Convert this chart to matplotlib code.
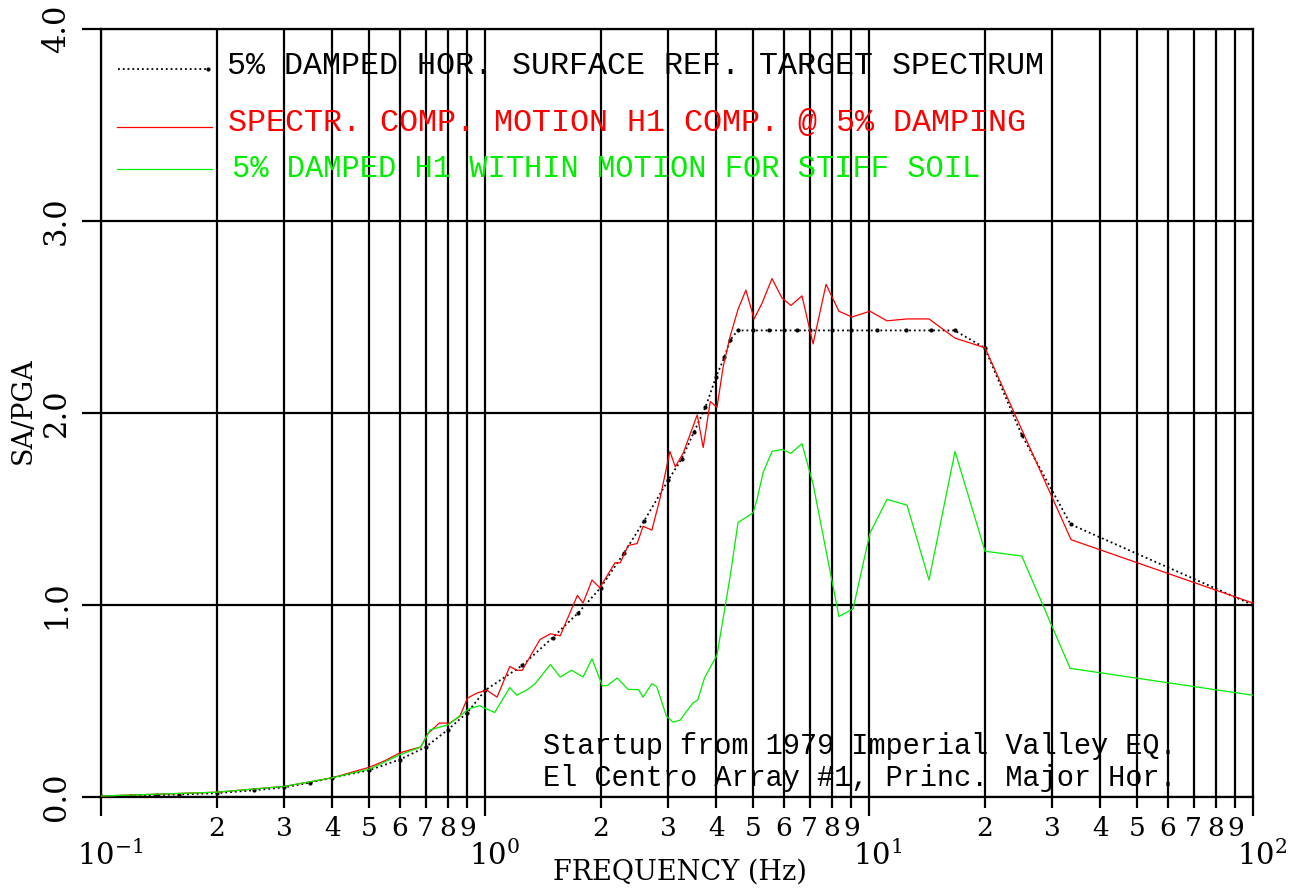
import numpy as np
import matplotlib
matplotlib.use("Agg")
import matplotlib.pyplot as plt
import matplotlib.transforms as mtransforms
from matplotlib.ticker import FixedLocator, FuncFormatter

# target spectrum (5% damped horizontal surface)
f_target = [0.1, 0.12, 0.14, 0.16, 0.2, 0.25, 0.3, 0.35, 0.4, 0.5, 0.6, 0.7, 0.8, 0.9,
            1.0, 1.25, 1.5, 1.75, 2.0, 2.3, 2.6, 3.0, 3.25, 3.5, 3.75, 4.0, 4.2, 4.35,
            4.55, 5.0, 5.5, 6.0, 6.5, 7.0, 8.0, 9.0, 10.5, 12.5, 14.5, 16.7, 20.0, 25.0,
            33.5, 100.0]
sa_target = [0.005, 0.007, 0.01, 0.013, 0.02, 0.035, 0.05, 0.075, 0.10, 0.14, 0.195, 0.26,
             0.35, 0.44, 0.555, 0.685, 0.83, 0.96, 1.09, 1.27, 1.44, 1.65, 1.76, 1.90, 2.03,
             2.19, 2.29, 2.38, 2.43, 2.43, 2.43, 2.43, 2.43, 2.43, 2.43, 2.43, 2.43, 2.43,
             2.43, 2.43, 2.34, 1.885, 1.42, 1.0]

# spectrum compatible motion H1
f_h1 = [0.1, 0.2, 0.3, 0.4, 0.5, 0.55, 0.6, 0.65, 0.68, 0.71, 0.76, 0.81, 0.86, 0.9, 0.95,
        1.01, 1.075, 1.16, 1.21, 1.25, 1.39, 1.48, 1.57, 1.74, 1.80, 1.90, 1.99, 2.12, 2.18,
        2.25, 2.36, 2.49, 2.58, 2.72, 2.86, 3.03, 3.13, 3.28, 3.57, 3.70, 3.86, 4.02, 4.17,
        4.35, 4.56, 4.78, 5.02, 5.26, 5.59, 5.93, 6.26, 6.69, 7.15, 7.73, 8.35, 9.03, 10.06,
        11.14, 12.56, 14.33, 16.75, 20.05, 33.6, 100.0]
sa_h1 = [0.005, 0.025, 0.055, 0.10, 0.155, 0.19, 0.23, 0.25, 0.26, 0.33, 0.385, 0.385, 0.42,
         0.515, 0.54, 0.557, 0.52, 0.68, 0.66, 0.66, 0.82, 0.85, 0.84, 1.05, 1.01, 1.13, 1.09,
         1.18, 1.22, 1.22, 1.31, 1.32, 1.41, 1.39, 1.56, 1.80, 1.72, 1.79, 1.99, 1.82, 2.06,
         2.03, 2.24, 2.40, 2.54, 2.64, 2.49, 2.57, 2.70, 2.60, 2.56, 2.61, 2.36, 2.67, 2.53,
         2.50, 2.53, 2.48, 2.49, 2.49, 2.39, 2.34, 1.34, 1.01]

# within motion for stiff soil
f_soil = [0.1, 0.2, 0.3, 0.4, 0.5, 0.6, 0.68, 0.72, 0.80, 0.91, 0.967, 1.06, 1.16, 1.21,
          1.29, 1.35, 1.48, 1.57, 1.68, 1.80, 1.90, 2.02, 2.08, 2.21, 2.36, 2.51, 2.58, 2.72,
          2.80, 2.97, 3.09, 3.22, 3.48, 3.58, 3.73, 4.02, 4.35, 4.56, 4.99, 5.11, 5.30, 5.59,
          5.93, 6.26, 6.69, 7.15, 8.35, 9.09, 10.06, 11.14, 12.56, 14.33, 16.75, 20.05, 25.0,
          33.4, 100.0]
sa_soil = [0.005, 0.025, 0.055, 0.10, 0.145, 0.22, 0.26, 0.35, 0.375, 0.46, 0.475, 0.44, 0.57,
           0.53, 0.56, 0.59, 0.69, 0.625, 0.66, 0.625, 0.72, 0.58, 0.58, 0.62, 0.56, 0.56, 0.52,
           0.59, 0.575, 0.42, 0.39, 0.40, 0.49, 0.505, 0.62, 0.74, 1.15, 1.43, 1.48, 1.55, 1.69,
           1.80, 1.81, 1.79, 1.84, 1.63, 0.94, 0.98, 1.375, 1.55, 1.52, 1.13, 1.80, 1.28, 1.255,
           0.67, 0.53]

legend_labels = ["5% DAMPED HOR. SURFACE REF. TARGET SPECTRUM",
                 "SPECTR. COMP. MOTION H1 COMP. @ 5% DAMPING",
                 "5% DAMPED H1 WITHIN MOTION FOR STIFF SOIL"]
note_lines = ["Startup from 1979 Imperial Valley EQ.",
              "El Centro Array #1, Princ. Major Hor."]

serif = "DejaVu Serif"
mono = "Liberation Mono"
plt.rcParams["mathtext.fontset"] = "dejavuserif"

fig = plt.figure(figsize=(13.04, 8.91), dpi=100)
ax = fig.add_axes([101 / 1304, 94 / 891, 1152 / 1304, 768 / 891])

ax.plot(f_target, sa_target, color="black", linestyle=":", linewidth=1.3,
        marker=".", markersize=4, zorder=3)
ax.plot(f_h1, sa_h1, color="#ff0000", linewidth=0.9, zorder=4)
ax.plot(f_soil, sa_soil, color="#00ee00", linewidth=0.9, zorder=4)

ax.set_xscale("log")
ax.set_xlim(0.1, 100)
ax.set_ylim(0, 4)

majors = [0.1, 1, 10, 100]
minors = [m * d for d in [0.1, 1, 10] for m in range(2, 10)]
ax.xaxis.set_major_locator(FixedLocator(majors))
ax.xaxis.set_minor_locator(FixedLocator(minors))
ax.xaxis.set_major_formatter(FuncFormatter(
    lambda v, p: r"$\mathregular{10^{%d}}$" % int(round(np.log10(v)))))
ax.xaxis.set_minor_formatter(FuncFormatter(
    lambda v, p: "%d" % int(round(v / 10 ** np.floor(np.log10(v) + 1e-9)))))
ax.set_yticks([0, 1, 2, 3, 4])
ax.set_yticklabels(["0.0", "1.0", "2.0", "3.0", "4.0"], rotation=90, va="center",
                   family=serif, fontsize=22)

ax.tick_params(axis="x", which="major", direction="out", length=14, width=1.6,
               pad=17, labelsize=21)
ax.tick_params(axis="x", which="minor", direction="out", length=8, width=1.6,
               pad=6, labelsize=19)
ax.tick_params(axis="y", direction="out", length=14, width=1.6, pad=7)
for lab in ax.get_xticklabels(which="both"):
    lab.set_family(serif)
# the "10" sits on the tick, exponent hangs to the right
shift = mtransforms.ScaledTranslation(9 / 100, 0, fig.dpi_scale_trans)
for lab in ax.get_xticklabels(which="major"):
    lab.set_transform(lab.get_transform() + shift)

ax.grid(True, which="both", axis="x", color="black", linewidth=1.6)
ax.grid(True, which="major", axis="y", color="black", linewidth=1.6)
for s in ax.spines.values():
    s.set_linewidth(1.6)

fig.text(680 / 1304, 1 - 872 / 891, "FREQUENCY (Hz)", family=serif, fontsize=19.5,
         ha="center", va="center")
fig.text(23 / 1304, 1 - 411 / 891, "SA/PGA", family=serif, fontsize=19.5,
         rotation=90, ha="center", va="center")

# legend drawn by hand, as in the original plot
leg_y = [66, 123, 169]
leg_line_y = [69, 127, 169]
leg_x = [227, 228, 232]
leg_size = [22.9, 22.9, 22.0]
colors = ["black", "#ff0000", "#00ee00"]
for i in range(3):
    yl = 1 - leg_line_y[i] / 891
    if i == 0:
        fig.add_artist(plt.Line2D([118 / 1304, 208 / 1304], [yl, yl], color="black",
                                  linestyle=":", linewidth=1.3, marker=".", markersize=4,
                                  markevery=[1]))
    else:
        fig.add_artist(plt.Line2D([117 / 1304, 212 / 1304], [yl, yl], color=colors[i],
                                  linewidth=0.9))
    fig.text(leg_x[i] / 1304, 1 - leg_y[i] / 891, legend_labels[i], family=mono,
             fontsize=leg_size[i], color=colors[i], ha="left", va="center")

fig.text(543 / 1304, 1 - 746 / 891, note_lines[0], family=mono, fontsize=20.6,
         ha="left", va="center")
fig.text(543 / 1304, 1 - 778 / 891, note_lines[1], family=mono, fontsize=20.6,
         ha="left", va="center")

fig.savefig("out.png", dpi=100)
